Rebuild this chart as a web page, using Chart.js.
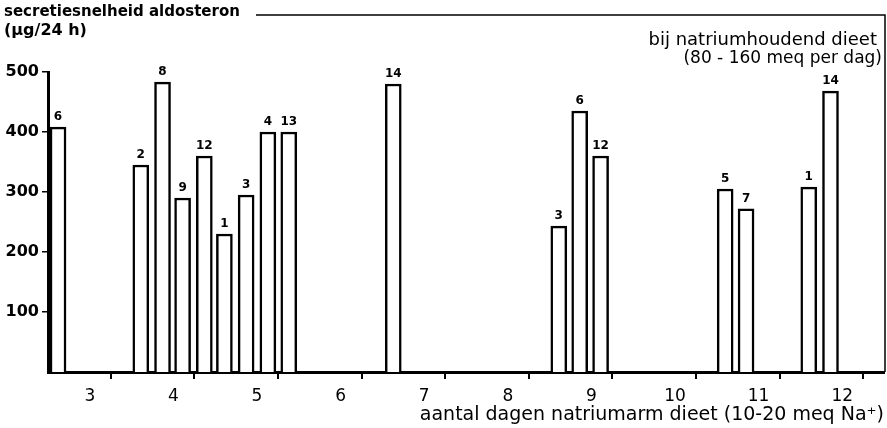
<!DOCTYPE html>
<html>
<head>
<meta charset="utf-8">
<script src="https://cdn.jsdelivr.net/npm/chart.js@4/dist/chart.umd.min.js"></script>
<style>
  html, body { margin: 0; padding: 0; background: #fff; }
  #wrap { width: 887px; height: 428px; }
</style>
</head>
<body>
<div id="wrap"><canvas id="grafiek" width="887" height="428"></canvas></div>
<script>
"use strict";

// dag van meting (positie op de x-as), secretiesnelheid, patientnummer
var dagen     = [2.62, 3.61, 3.87, 4.11, 4.37, 4.61, 4.87, 5.13, 5.38, 6.63, 8.61, 8.86, 9.11, 10.60, 10.85, 11.60, 11.86];
var waarden   = [408,  345,  483,  290,  360,  230,  295,  400,  400,  480,  243,  435,  360,  305,   272,   308,   468];
var patienten = ["6", "2", "8", "9", "12", "1", "3", "4", "13", "14", "3", "6", "12", "5", "7", "1", "14"];

var yTicks = [100, 200, 300, 400, 500];
var xLabels = [3, 4, 5, 6, 7, 8, 9, 10, 11, 12];

var lettertype = "'DejaVu Sans', sans-serif";

var punten = dagen.map(function (d, i) { return { x: d, y: waarden[i] }; });

// nummers boven de staven en teksten rond de grafiek
var tekstPlugin = {
  id: "teksten",
  afterDatasetsDraw: function (chart) {
    var ctx = chart.ctx;
    var meta = chart.getDatasetMeta(0);
    ctx.save();
    ctx.fillStyle = "#000";
    ctx.font = "bold 12px " + lettertype;
    ctx.textAlign = "center";
    ctx.textBaseline = "bottom";
    meta.data.forEach(function (bar, i) {
      ctx.fillText(patienten[i], bar.x, bar.y - 4);
    });
    ctx.restore();
  },
  afterDraw: function (chart) {
    var ctx = chart.ctx;
    var area = chart.chartArea;
    ctx.save();
    ctx.fillStyle = "#000";
    ctx.strokeStyle = "#000";
    ctx.textBaseline = "middle";
    ctx.textAlign = "left";
    ctx.font = "bold 15px " + lettertype;
    ctx.fillText("secretiesnelheid aldosteron", 4, 12);
    ctx.font = "bold 16px " + lettertype;
    ctx.fillText("(\u00b5g/24 h)", 4, 31);
    ctx.textAlign = "right";
    ctx.font = "18px " + lettertype;
    ctx.fillText("bij natriumhoudend dieet", 877, 40);
    ctx.font = "17px " + lettertype;
    ctx.fillText("(80 - 160 meq per dag)", 882, 59);
    // kader boven en rechts
    ctx.lineWidth = 1.5;
    ctx.beginPath();
    ctx.moveTo(256, 15);
    ctx.lineTo(area.right + 1, 15);
    ctx.lineTo(area.right + 1, area.bottom);
    ctx.stroke();
    ctx.restore();
  }
};

new Chart(document.getElementById("grafiek"), {
  type: "bar",
  data: {
    datasets: [{
      data: punten,
      backgroundColor: "#fff",
      borderColor: "#000",
      borderWidth: 2.5,
      borderSkipped: "bottom",
      barThickness: 16
    }]
  },
  options: {
    responsive: false,
    animation: false,
    events: [],
    layout: { padding: { top: 72, right: 3, left: 0, bottom: 0 } },
    plugins: {
      legend: { display: false },
      tooltip: { enabled: false }
    },
    scales: {
      x: {
        type: "linear",
        offset: false,
        min: 2.5,
        max: 12.5,
        afterFit: function (scale) {
          scale.height = 56;
          scale.paddingLeft = 0;
          scale.paddingRight = 0;
        },
        afterBuildTicks: function (scale) {
          var t = [];
          for (var i = 0; i <= 20; i++) { t.push({ value: 2.5 + i * 0.5 }); }
          scale.ticks = t;
        },
        ticks: {
          autoSkip: false,
          maxRotation: 0,
          padding: 7,
          color: "#000",
          font: { size: 17, family: lettertype },
          callback: function (v) { return xLabels.indexOf(v) >= 0 ? String(v) : ""; }
        },
        grid: {
          drawOnChartArea: false,
          tickLength: 7,
          lineWidth: 2,
          tickColor: function (c) {
            var v = c.tick ? c.tick.value : 0;
            return (v % 1 !== 0 && v > 2.5) ? "#000" : "rgba(0,0,0,0)";
          }
        },
        border: { color: "#000", width: 3 },
        title: {
          display: true,
          text: "aantal dagen natriumarm dieet (10-20 meq Na\u207a)",
          align: "end",
          color: "#000",
          font: { size: 19, family: lettertype },
          padding: { top: 0, bottom: 2 }
        }
      },
      y: {
        min: 0,
        max: 500,
        afterFit: function (scale) { scale.width = 48; },
        afterBuildTicks: function (scale) {
          scale.ticks = yTicks.map(function (v) { return { value: v }; });
        },
        ticks: {
          padding: 3,
          color: "#000",
          font: { size: 16, weight: "bold", family: lettertype }
        },
        grid: {
          drawOnChartArea: false,
          tickLength: 6,
          lineWidth: 1.5,
          tickColor: "#000"
        },
        border: { color: "#000", width: 3 }
      }
    }
  },
  plugins: [tekstPlugin]
});
</script>
</body>
</html>
